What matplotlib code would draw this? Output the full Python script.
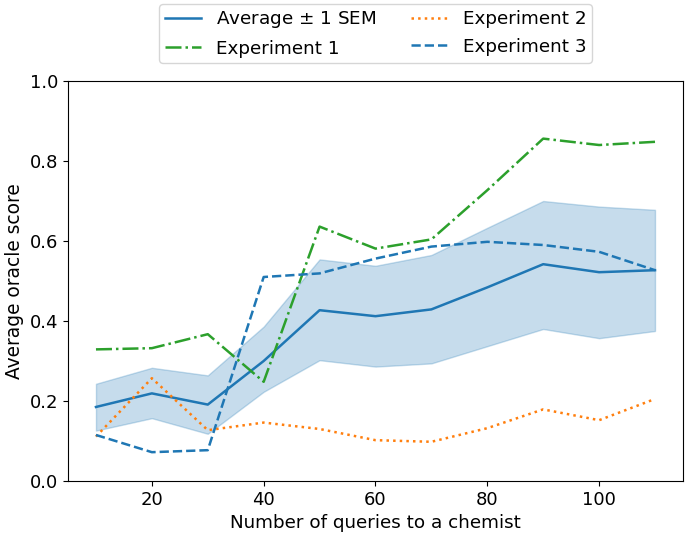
import matplotlib
matplotlib.use('Agg')
import matplotlib.pyplot as plt
import numpy as np

queries = [10, 20, 30, 40, 50, 60, 70, 80, 90, 100, 110]

average = [0.185, 0.219, 0.191, 0.300, 0.427, 0.412, 0.429, 0.484, 0.542, 0.522, 0.527]
sem_upper = [0.243, 0.283, 0.264, 0.386, 0.554, 0.538, 0.565, 0.633, 0.700, 0.686, 0.678]
sem_lower = [0.126, 0.157, 0.118, 0.223, 0.302, 0.286, 0.294, 0.337, 0.380, 0.357, 0.375]

experiment_1 = [0.329, 0.332, 0.367, 0.248, 0.636, 0.581, 0.604, 0.727, 0.856, 0.840, 0.848]
experiment_2 = [0.111, 0.257, 0.127, 0.146, 0.130, 0.102, 0.098, 0.132, 0.179, 0.152, 0.205]
experiment_3 = [0.115, 0.072, 0.077, 0.510, 0.519, 0.556, 0.586, 0.598, 0.590, 0.573, 0.527]


def main():
    fig = plt.figure(figsize=(6.85, 5.38), dpi=100)
    ax = fig.add_axes([0.0993, 0.106, 0.8977, 0.7434])

    ax.fill_between(queries, sem_lower, sem_upper, color='tab:blue', alpha=0.25, linewidth=1.0)
    ax.plot(queries, average, color='tab:blue', lw=1.8, label='Average $\\pm$ 1 SEM')
    ax.plot(queries, experiment_1, color='tab:green', lw=1.8, ls='-.', label='Experiment 1')
    ax.plot(queries, experiment_2, color='tab:orange', lw=1.8, ls=':', label='Experiment 2')
    ax.plot(queries, experiment_3, color='tab:blue', lw=1.8, ls='--', label='Experiment 3')

    ax.set_ylim(0, 1)
    ax.set_xlim(5, 115)
    ax.set_xticks([20, 40, 60, 80, 100])
    ax.set_yticks(np.arange(0, 1.01, 0.2))
    ax.tick_params(labelsize=13)
    ax.set_xlabel('Number of queries to a chemist', fontsize=13.2)
    ax.set_ylabel('Average oracle score', fontsize=13.4)

    ax.legend(loc='lower center', bbox_to_anchor=(0.5, 1.022), ncol=2, fontsize=13.2,
              columnspacing=1.9, labelspacing=0.5, borderpad=0.3)

    fig.savefig('out.png', dpi=100)


if __name__ == '__main__':
    main()
